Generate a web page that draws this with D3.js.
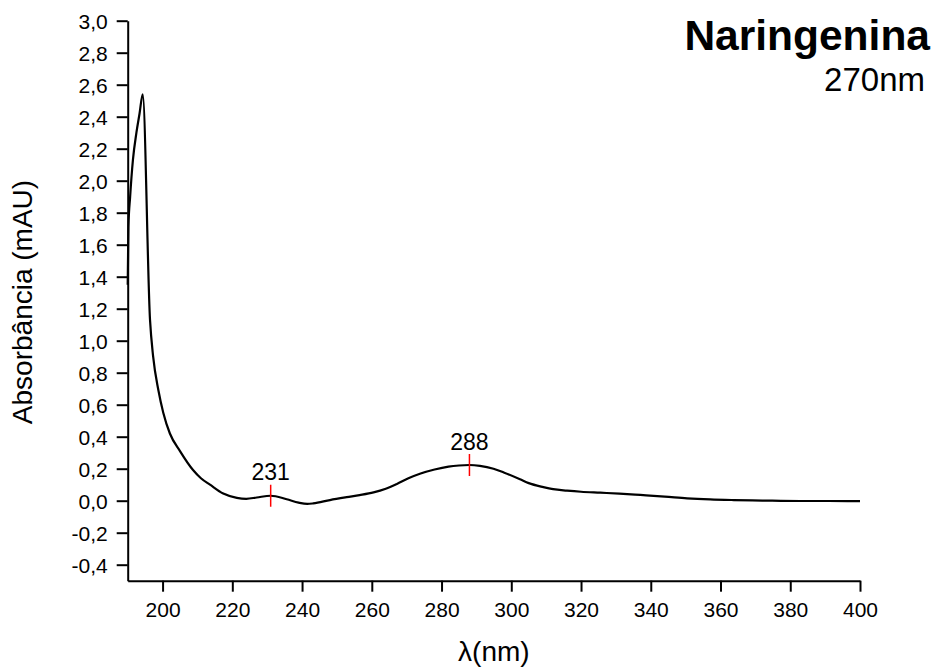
<!DOCTYPE html>
<html><head><meta charset="utf-8">
<script src="https://cdnjs.cloudflare.com/ajax/libs/d3/7.8.5/d3.min.js"></script>
<style>
html,body{margin:0;padding:0;background:#fff;}
text{font-family:"Liberation Sans",Arial,sans-serif;fill:#000;}
</style></head>
<body>
<script>
// ---- data ----
const wavelengths = [190, 190.2, 190.7, 191.5, 192.5, 193.4, 194.3, 196.4, 197.3, 198.8, 200.2, 202.1, 205, 208.8, 211, 213.6, 217.4, 221.3, 224, 227, 231, 235.6, 239, 241.5, 243.2, 248, 252.8, 256.5, 260.5, 264, 267.2, 270.5, 274, 278, 282, 285, 288, 291, 294.9, 298, 302.5, 305, 309.2, 312, 316, 320, 325.5, 331, 337, 344, 350.4, 357, 363.8, 372, 382.9, 391, 400];
const absorbance = [1.35, 1.71, 1.90, 2.13, 2.30, 2.42, 2.54, 1.13, 0.90, 0.69, 0.55, 0.42, 0.31, 0.19, 0.14, 0.10, 0.045, 0.018, 0.012, 0.02, 0.031, 0.009, -0.012, -0.02, -0.017, 0.004, 0.022, 0.035, 0.052, 0.075, 0.105, 0.14, 0.17, 0.195, 0.213, 0.22, 0.223, 0.218, 0.20, 0.175, 0.134, 0.11, 0.085, 0.072, 0.063, 0.056, 0.05, 0.044, 0.036, 0.026, 0.015, 0.008, 0.004, 0.001, -0.002, -0.002, -0.003];
const peakNm = [231, 288];
const peakAbs = [0.031, 0.223];
const peakLabels = ["231", "288"];
const xMajorTicks = [200, 220, 240, 260, 280, 300, 320, 340, 360, 380, 400];
const xMinorTicks = [190, 210, 230, 250, 270, 290, 310, 330, 350, 370, 390];
const yMajorTicks = [-0.4, -0.2, 0, 0.2, 0.4, 0.6, 0.8, 1.0, 1.2, 1.4, 1.6, 1.8, 2.0, 2.2, 2.4, 2.6, 2.8, 3.0];
const yMinorTicks = [-0.5, -0.3, -0.1, 0.1, 0.3, 0.5, 0.7, 0.9, 1.1, 1.3, 1.5, 1.7, 1.9, 2.1, 2.3, 2.5, 2.7, 2.9];
const titleText = "Naringenina";
const subtitleText = "270nm";
const xLabel = "λ(nm)";
const yLabel = "Absorbância (mAU)";

const W = 936, H = 668;
const svg = d3.select("body").append("svg").attr("width", W).attr("height", H);
const x = d3.scaleLinear().domain([190, 400]).range([127.7, 860]);
const y = d3.scaleLinear().domain([-0.5, 3.0]).range([580.7, 20.7]);
const fmt = d => d3.format(".1f")(d).replace(".", ",").replace("−", "-");

// curve
const pts = wavelengths.map((w, i) => [w, absorbance[i]]);
svg.append("path").datum(pts)
  .attr("fill", "none").attr("stroke", "#000").attr("stroke-width", 2.2)
  .attr("stroke-linejoin", "round")
  .attr("d", d3.line().x(d => x(d[0])).y(d => y(d[1])).curve(d3.curveMonotoneX));

// axes
const gx = svg.append("g").attr("transform", `translate(0,${y(-0.5)})`);
gx.call(d3.axisBottom(x).tickValues(xMinorTicks).tickSize(6).tickSizeOuter(0).tickFormat(""));
gx.call(d3.axisBottom(x).tickValues(xMajorTicks).tickSize(11).tickSizeOuter(0).tickFormat(d3.format("d")));
gx.selectAll("text").attr("y", 36).attr("dy", null).style("font-size", "21px");

const gy = svg.append("g").attr("transform", `translate(${x(190)},0)`);
gy.call(d3.axisLeft(y).tickValues(yMinorTicks).tickSize(6).tickSizeOuter(0).tickFormat(""));
gy.call(d3.axisLeft(y).tickValues(yMajorTicks).tickSize(11).tickSizeOuter(0).tickFormat(fmt));
gy.selectAll("text").attr("x", -20).attr("dy", "0.35em").style("font-size", "21px");

svg.selectAll(".domain").attr("stroke", "#000").attr("stroke-width", 2);
svg.selectAll(".tick line").attr("stroke", "#000").attr("stroke-width", 2);

// peak markers
peakNm.forEach((p, i) => {
  const cx = x(p), cy = y(peakAbs[i]);
  svg.append("line").attr("x1", cx).attr("x2", cx).attr("y1", cy - 11).attr("y2", cy + 11)
    .attr("stroke", "#ff0000").attr("stroke-width", 1.5);
  svg.append("text").attr("x", cx).attr("y", cy - 15.5).attr("text-anchor", "middle")
    .style("font-size", "23px").text(peakLabels[i]);
});

// labels
svg.append("text").attr("x", (x(190) + x(400)) / 2).attr("y", 661).attr("text-anchor", "middle")
  .style("font-size", "28px").text(xLabel);
svg.append("text").attr("transform", `translate(32,302) rotate(-90)`).attr("text-anchor", "middle")
  .style("font-size", "28px").text(yLabel);
svg.append("text").attr("x", 930).attr("y", 50).attr("text-anchor", "end")
  .style("font-size", "42.5px").style("font-weight", "bold").text(titleText);
svg.append("text").attr("x", 925).attr("y", 91).attr("text-anchor", "end")
  .style("font-size", "33px").text(subtitleText);
</script>
</body></html>
